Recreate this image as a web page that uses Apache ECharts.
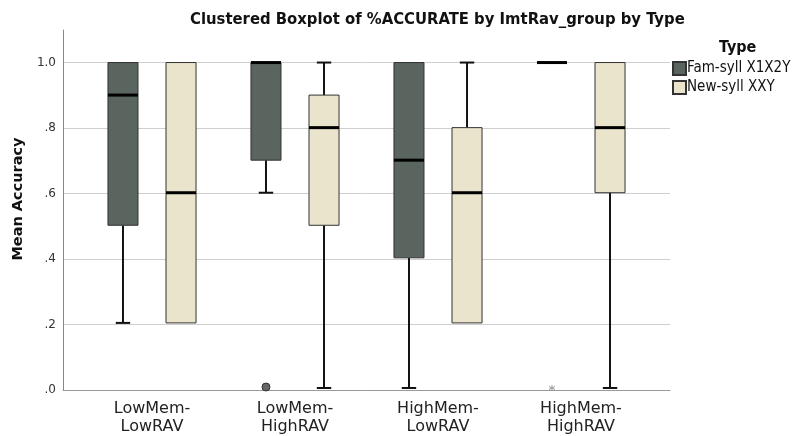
<!DOCTYPE html>
<html>
<head>
<meta charset="utf-8">
<script src="https://cdn.jsdelivr.net/npm/echarts@6/dist/echarts.min.js"></script>
<style>
  html, body { margin: 0; padding: 0; background: #fff; }
  #chart { width: 795px; height: 436px; }
</style>
</head>
<body>
<div id="chart"></div>
<script>
// Groups on the x axis
const categories = ['LowMem-\nLowRAV', 'LowMem-\nHighRAV', 'HighMem-\nLowRAV', 'HighMem-\nHighRAV'];

// Box summaries per group: [min, Q1, median, Q3, max]
const famSyll = [
  [0.2, 0.5, 0.9, 1.0, 1.0],
  [0.6, 0.7, 1.0, 1.0, 1.0],
  [0.0, 0.4, 0.7, 1.0, 1.0],
  [1.0, 1.0, 1.0, 1.0, 1.0]
];
const newSyll = [
  [0.2, 0.2, 0.6, 1.0, 1.0],
  [0.0, 0.5, 0.8, 0.9, 1.0],
  [0.2, 0.2, 0.6, 0.8, 1.0],
  [0.0, 0.6, 0.8, 1.0, 1.0]
];

// Outlying cases of the Fam-syll type: [group index, value, kind]
const famOutliers = [
  [1, 0.0, 'outlier'],
  [3, 0.0, 'extreme']
];

const seriesNames = ['Fam-syll X1X2Y', 'New-syll XXY'];
const seriesColors = ['#59655e', '#ebe4cc'];
const yMax = 1.1;
const yStep = 0.2;

// Each type sits left or right of the group centre
const OFFSET = 0.203;   // fraction of band width
const BOX_W = 0.21;     // fraction of band width

function boxRenderer(side, fill) {
  return function (params, api) {
    const idx = api.value(0);
    const vMin = api.value(1), q1 = api.value(2), med = api.value(3), q3 = api.value(4), vMax = api.value(5);
    const band = api.size([1, 0])[0];
    const cx = api.coord([idx, 0])[0] + side * OFFSET * band;
    const w = BOX_W * band;
    const capW = w * 0.48;
    const y = v => api.coord([idx, v])[1];
    const children = [];
    const whisker = { stroke: '#111', lineWidth: 2 };
    if (vMax > q3) {
      children.push({ type: 'line', shape: { x1: cx, y1: y(q3), x2: cx, y2: y(vMax) }, style: whisker });
      children.push({ type: 'line', shape: { x1: cx - capW / 2, y1: y(vMax), x2: cx + capW / 2, y2: y(vMax) }, style: whisker });
    }
    if (vMin < q1) {
      children.push({ type: 'line', shape: { x1: cx, y1: y(q1), x2: cx, y2: y(vMin) }, style: whisker });
      children.push({ type: 'line', shape: { x1: cx - capW / 2, y1: y(vMin), x2: cx + capW / 2, y2: y(vMin) }, style: whisker });
    }
    if (q3 > q1) {
      children.push({
        type: 'rect',
        shape: { x: cx - w / 2, y: y(q3), width: w, height: y(q1) - y(q3) },
        style: { fill: fill, stroke: '#333', lineWidth: 1 }
      });
    }
    children.push({
      type: 'line',
      shape: { x1: cx - w / 2, y1: y(med), x2: cx + w / 2, y2: y(med) },
      style: { stroke: '#000', lineWidth: 3 }
    });
    return { type: 'group', children: children };
  };
}

function outlierRenderer(params, api) {
  const idx = api.value(0);
  const band = api.size([1, 0])[0];
  const cx = api.coord([idx, 0])[0] - OFFSET * band;
  const cy = api.coord([idx, api.value(1)])[1];
  const kind = famOutliers[params.dataIndex][2];
  if (kind === 'outlier') {
    return {
      type: 'circle',
      shape: { cx: cx, cy: cy - 1, r: 4 },
      style: { fill: '#666', stroke: '#333', lineWidth: 1 }
    };
  }
  const r = 3;
  const st = { stroke: '#999', lineWidth: 1 };
  return {
    type: 'group',
    children: [
      { type: 'line', shape: { x1: cx, y1: cy - r, x2: cx, y2: cy + r }, style: st },
      { type: 'line', shape: { x1: cx - r, y1: cy - r / 2, x2: cx + r, y2: cy + r / 2 }, style: st },
      { type: 'line', shape: { x1: cx - r, y1: cy + r / 2, x2: cx + r, y2: cy - r / 2 }, style: st }
    ]
  };
}

const toRows = arr => arr.map((d, i) => [i].concat(d));

const chart = echarts.init(document.getElementById('chart'), null, { renderer: 'canvas' });

const option = {
  backgroundColor: '#fff',
  animation: false,
  title: [
    {
      text: 'Clustered Boxplot of %ACCURATE by ImtRav_group by Type',
      left: 185, top: 6,
      textStyle: { fontFamily: 'DejaVu Sans Condensed, DejaVu Sans', fontWeight: 'bold', fontSize: 16.5, color: '#111' }
    },
    {
      text: 'Type',
      left: 714, top: 35,
      textStyle: { fontFamily: 'DejaVu Sans Condensed, DejaVu Sans', fontWeight: 'bold', fontSize: 16, color: '#111' }
    }
  ],
  legend: {
    data: seriesNames,
    orient: 'vertical',
    left: 667, top: 56,
    itemWidth: 13, itemHeight: 13, itemGap: 4,
    icon: 'rect',
    textStyle: { fontFamily: 'DejaVu Sans Condensed, DejaVu Sans', fontSize: 15, lineHeight: 15, color: '#111', padding: [0, 0, 0, -4] }
  },
  grid: [
    { left: 63, right: 125, top: 30, bottom: 46 },
    { left: 80.5, right: 142.5, top: 30, bottom: 46 }
  ],
  xAxis: [
    {
      gridIndex: 0, type: 'value', min: 0, max: 1,
      axisLine: { show: true, lineStyle: { color: '#999', width: 1 } },
      axisTick: { show: false }, axisLabel: { show: false }, splitLine: { show: false }
    },
    {
      gridIndex: 1, type: 'category', data: categories,
      axisLine: { show: false }, axisTick: { show: false }, splitLine: { show: false },
      axisLabel: {
        margin: 12, lineHeight: 18,
        fontFamily: 'DejaVu Sans', fontSize: 16, color: '#222'
      }
    }
  ],
  yAxis: [
    {
      gridIndex: 0, type: 'value', min: 0, max: yMax, interval: yStep,
      name: 'Mean Accuracy', nameLocation: 'middle', nameGap: 37,
      nameTextStyle: { fontFamily: 'DejaVu Sans', fontWeight: 'bold', fontSize: 14.5, color: '#111', padding: [0, 0, 0, 22] },
      axisLine: { show: true, lineStyle: { color: '#888', width: 1 } },
      axisTick: { show: false },
      axisLabel: {
        margin: 7, fontFamily: 'DejaVu Sans', fontSize: 12, color: '#333',
        formatter: v => (v > 1.05 ? '' : v.toFixed(1).replace(/^0/, ''))
      },
      splitLine: {
        show: true,
        lineStyle: { color: ['#cfcfcf', '#cfcfcf', '#cfcfcf', '#cfcfcf', '#cfcfcf', '#cfcfcf', 'rgba(0,0,0,0)'], width: 1 }
      }
    },
    {
      gridIndex: 1, type: 'value', min: 0, max: yMax,
      show: false
    }
  ],
  series: [
    {
      name: seriesNames[0], type: 'custom', xAxisIndex: 1, yAxisIndex: 1,
      itemStyle: { color: seriesColors[0], borderColor: '#333', borderWidth: 1 },
      encode: { x: 0, y: [1, 2, 3, 4, 5] },
      renderItem: boxRenderer(-1, seriesColors[0]),
      data: toRows(famSyll)
    },
    {
      name: seriesNames[1], type: 'custom', xAxisIndex: 1, yAxisIndex: 1,
      itemStyle: { color: seriesColors[1], borderColor: '#333', borderWidth: 1 },
      encode: { x: 0, y: [1, 2, 3, 4, 5] },
      renderItem: boxRenderer(1, seriesColors[1]),
      data: toRows(newSyll)
    },
    {
      name: 'outliers', type: 'custom', xAxisIndex: 1, yAxisIndex: 1,
      encode: { x: 0, y: 1 },
      renderItem: outlierRenderer,
      z: 5,
      data: famOutliers.map(d => [d[0], d[1]])
    }
  ]
};

chart.setOption(option);
</script>
</body>
</html>
